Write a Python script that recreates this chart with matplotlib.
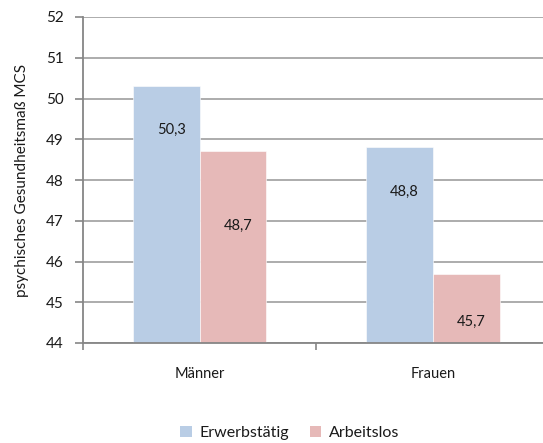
import numpy as np
import matplotlib.pyplot as plt
from matplotlib.patches import Patch

categories = ["Männer", "Frauen"]
series_names = ["Erwerbstätig", "Arbeitslos"]
erwerbstaetig = [50.3, 48.8]
arbeitslos = [48.7, 45.7]
value_labels = [["50,3", "48,8"], ["48,7", "45,7"]]
y_ticks = [44, 45, 46, 47, 48, 49, 50, 51, 52]

colors = ["#B9CDE5", "#E6B9B8"]
grid_col = "#A6A6A6"
axis_col = "#868686"
text_col = "#1a1a1a"

plt.rcParams["font.family"] = ["Lato", "DejaVu Sans"]

fig = plt.figure(figsize=(5.43, 4.43), dpi=100)
ax = fig.add_axes([83 / 543, 100 / 443, 1 - 83 / 543, 326 / 443])

x = np.arange(len(categories))
width = 0.286
series = [erwerbstaetig, arbeitslos]
# label offsets below bar top (data units), as placed in the original
label_drop = [[1.07, 1.1], [1.83, 1.18]]
for i, vals in enumerate(series):
    pos = x + (i - 0.5) * width
    ax.bar(pos, np.array(vals) - 44, bottom=44, width=width, color=colors[i],
           edgecolor="white", linewidth=0.4, zorder=2)
    for j, v in enumerate(vals):
        ax.text(pos[j] + 0.022, v - label_drop[i][j], value_labels[i][j],
                ha="center", va="center", fontsize=10.5, color=text_col, zorder=3)

ax.set_ylim(44, 52)
ax.set_xlim(-0.5, 1.472)
ax.set_yticks(y_ticks)
ax.set_yticklabels([str(t) for t in y_ticks], fontsize=11, color=text_col)
ax.yaxis.grid(True, color=grid_col, linewidth=1.3, zorder=0)
ax.set_axisbelow(True)

ax.set_xticks([-0.5, 0.5])
ax.set_xticklabels([])
ax.set_xticks(x, minor=True)
ax.set_xticklabels(categories, minor=True, fontsize=10.5, color=text_col)
ax.tick_params(axis="x", which="minor", length=0, pad=17)
ax.tick_params(axis="x", which="major", length=5, color=axis_col, width=1.2)
ax.tick_params(axis="y", length=6, color=axis_col, width=1.2, pad=8)

for s in ["top", "right"]:
    ax.spines[s].set_visible(False)
for s in ["left", "bottom"]:
    ax.spines[s].set_color(axis_col)
    ax.spines[s].set_linewidth(1.3)

ax.set_ylabel("psychisches Gesundheitsmaß MCS", fontsize=11, color=text_col, labelpad=12)

handles = [Patch(facecolor=c, edgecolor="none") for c in colors]
fig.legend(handles, series_names, loc="center", bbox_to_anchor=(290 / 543, 10 / 443),
           ncol=2, frameon=False, fontsize=11.5, handlelength=0.7, handleheight=0.7,
           handletextpad=0.5, columnspacing=1.3, labelcolor=text_col)

fig.savefig("out.png", dpi=100)
